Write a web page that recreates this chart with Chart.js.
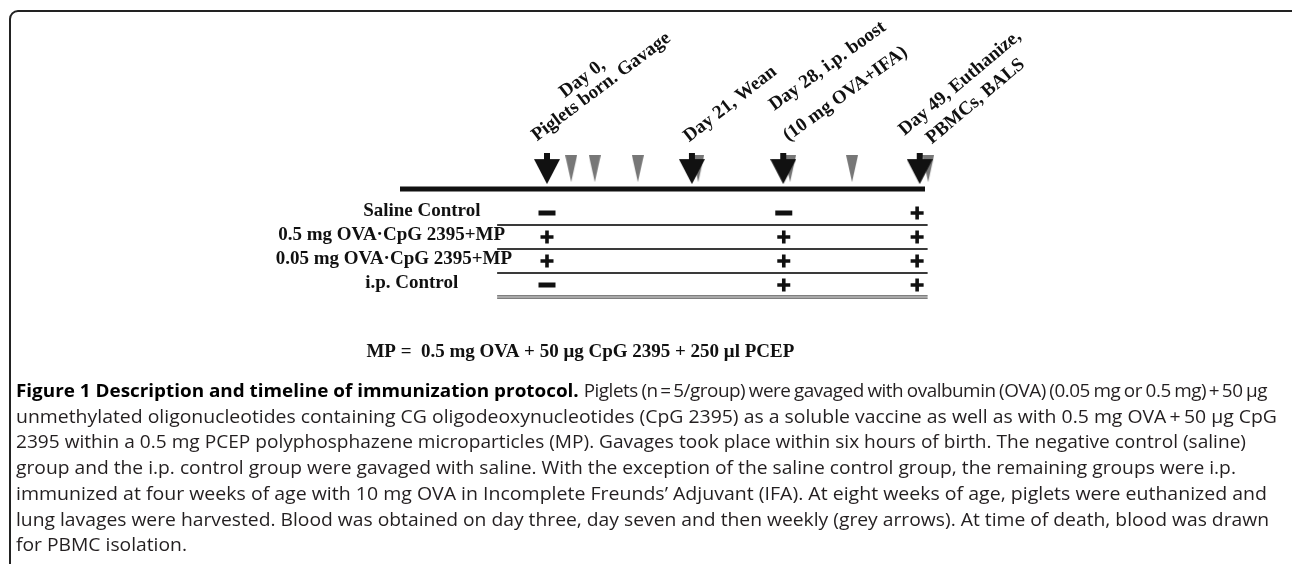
<!DOCTYPE html>
<html>
<head>
<meta charset="utf-8">
<title>Figure 1 - immunization timeline</title>
<script src="https://cdn.jsdelivr.net/npm/chart.js@4"></script>
<style>
  html, body { margin: 0; padding: 0; background: #fff; }
  body { width: 1292px; height: 564px; position: relative; overflow: hidden; }
  #frame { position: absolute; left: 9px; top: 10px; width: 1300px; height: 620px; border: 2px solid #222; border-radius: 9px; }
  #diagram { position: absolute; left: 0; top: 0; }
  #caption { position: absolute; left: 16px; top: 378px; font-family: 'Open Sans', sans-serif; font-size: 18px;
             line-height: 25.7px; color: #231f20; white-space: nowrap; }
  #caption div { width: max-content; transform-origin: 0 0; }
  #caption b { color: #000; }
  #caption .tight { letter-spacing: -0.45px; word-spacing: -0.8px; }
</style>
</head>
<body>
<div id="frame"></div>
<canvas id="diagram" width="1292" height="380"></canvas>
<div id="caption">
  <div><b>Figure 1 Description and timeline of immunization protocol.</b> <span class="tight">Piglets (n&thinsp;=&thinsp;5/group) were gavaged with ovalbumin (OVA) (0.05 mg or 0.5 mg)&thinsp;+&thinsp;50 µg</span></div>
  <div>unmethylated oligonucleotides containing CG oligodeoxynucleotides (CpG 2395) as a soluble vaccine as well as with 0.5 mg OVA&thinsp;+&thinsp;50 µg CpG</div>
  <div>2395 within a 0.5 mg PCEP polyphosphazene microparticles (MP). Gavages took place within six hours of birth. The negative control (saline)</div>
  <div>group and the i.p. control group were gavaged with saline. With the exception of the saline control group, the remaining groups were i.p.</div>
  <div>immunized at four weeks of age with 10 mg OVA in Incomplete Freunds’ Adjuvant (IFA). At eight weeks of age, piglets were euthanized and</div>
  <div>lung lavages were harvested. Blood was obtained on day three, day seven and then weekly (grey arrows). At time of death, blood was drawn</div>
  <div>for PBMC isolation.</div>
</div>
<script>
// Timeline is schematic: positions are given along the bar, 0 = left end, 100 = right end
const eventNames = ['Day 0', 'Day 21', 'Day 28', 'Day 49'];
const eventPos = [28.0, 55.6, 73.0, 99.0];
const eventLabels = [
  ['Day 0,', 'Piglets born. Gavage'],
  ['Day 21, Wean'],
  ['Day 28, i.p. boost', '(10 mg OVA+IFA)'],
  ['Day 49, Euthanize,', 'PBMCs, BALS'],
];
// blood sampling (grey arrows)
const bleedPos = [32.6, 37.1, 45.3, 56.8, 74.3, 86.1, 100.6];

const groups = ['Saline Control', '0.5 mg OVA·CpG 2395+MP', '0.05 mg OVA·CpG 2395+MP', 'i.p. Control'];
const treatCols = [28.0, 73.1, 98.5];   // Day 0, Day 28, Day 49
const treatments = [
  ['-', '-', '+'],
  ['+', '+', '+'],
  ['+', '+', '+'],
  ['-', '+', '+'],
];
const barStart = 0, barEnd = 100;
const tableStart = 18.5, tableEnd = 100.5;
const mpNote = 'MP =  0.5 mg OVA + 50 μg CpG 2395 + 250 μl PCEP';

const ARROW_Y = -0.85;
const FONT = 'bold 19px "Liberation Serif", "Times New Roman", serif';

function arrowImage(w, h, stem, color) {
  const c = document.createElement('canvas');
  c.width = w; c.height = h;
  const g = c.getContext('2d');
  g.fillStyle = color;
  if (stem) g.fillRect(w / 2 - 3, 0, 6, stem + 1);
  g.beginPath();
  g.moveTo(0, stem);
  g.lineTo(w, stem);
  g.lineTo(w / 2, h);
  g.closePath();
  g.fill();
  return c;
}
const blackArrow = arrowImage(26, 31, 6, '#111');
const greyArrow = arrowImage(12, 27, 0, '#777');

function hLine(x0, x1, y, color, width) {
  return {
    data: [{ x: x0, y }, { x: x1, y }],
    showLine: true, borderColor: color, borderWidth: width,
    pointRadius: 0, clip: false,
  };
}

const plusPts = [], minusPts = [];
treatments.forEach((row, i) => row.forEach((s, j) => {
  (s === '+' ? plusPts : minusPts).push({ x: treatCols[j], y: i + 1 });
}));

const separators = groups.map((g, i) => i < groups.length - 1
  ? [hLine(tableStart, tableEnd, i + 1.5, '#3a3a3a', 2)]
  : [hLine(tableStart, tableEnd, i + 1.45, '#555', 1.2), hLine(tableStart, tableEnd, i + 1.55, '#555', 1.2)]
).flat();

// group name placement, relative to where the table rules begin
const groupLayout = [
  { align: 'left', dx: -134 },
  { align: 'right', dx: 8 },
  { align: 'right', dx: 15 },
  { align: 'left', dx: -132 },
];
// slanted label placement: start of the bottom line relative to its arrow
const labelLayout = [
  { dx: -10, dy: 0, ang: -37, lh: 18, shift: -10 },
  { dx: -3, dy: 1, ang: -38, lh: 22, shift: 0 },
  { dx: 5, dy: 0, ang: -36, lh: 33, shift: 2 },
  { dx: 12, dy: 3, ang: -40, lh: 24, shift: 0 },
];

const textPlugin = {
  id: 'protocolText',
  afterDatasetsDraw(chart) {
    const { ctx, scales: { x, y } } = chart;
    ctx.save();
    ctx.fillStyle = '#111';
    ctx.font = FONT;

    // group names
    ctx.textBaseline = 'middle';
    const x0 = x.getPixelForValue(tableStart);
    groups.forEach((g, i) => {
      ctx.textAlign = groupLayout[i].align;
      ctx.fillText(g, x0 + groupLayout[i].dx, y.getPixelForValue(i + 1) - 2);
    });

    // event labels
    ctx.textAlign = 'left';
    ctx.textBaseline = 'alphabetic';
    eventLabels.forEach((lines, i) => {
      const L = labelLayout[i];
      const px = x.getPixelForValue(eventPos[i]) + L.dx;
      const py = y.getPixelForValue(ARROW_Y) - 27 + L.dy;
      const bottomW = ctx.measureText(lines[lines.length - 1]).width;
      ctx.save();
      ctx.translate(px, py);
      ctx.rotate(L.ang * Math.PI / 180);
      lines.forEach((t, j) => {
        const w = ctx.measureText(t).width;
        const up = lines.length - 1 - j;
        ctx.fillText(t, (bottomW - w) / 2 + (up ? L.shift : 0), -up * L.lh);
      });
      ctx.restore();
    });

    // microparticle footnote
    ctx.textAlign = 'left';
    ctx.textBaseline = 'middle';
    ctx.fillText(mpNote, x.getPixelForValue(-6.4), y.getPixelForValue(6.8));
    ctx.restore();
  }
};

new Chart(document.getElementById('diagram'), {
  type: 'scatter',
  data: {
    datasets: [
      { data: eventPos.map(p => ({ x: p, y: ARROW_Y })), pointStyle: blackArrow, clip: false },
      { data: bleedPos.map(p => ({ x: p, y: ARROW_Y })), pointStyle: greyArrow, clip: false },
      { data: plusPts, pointStyle: 'cross', pointRadius: 6.5, borderWidth: 3.6, borderColor: '#111', clip: false },
      { data: minusPts, pointStyle: 'line', pointRadius: 8.5, borderWidth: 5, borderColor: '#111', clip: false },
      hLine(barStart, barEnd, 0, '#111', 5),
      ...separators,
    ],
  },
  options: {
    responsive: false,
    animation: false,
    events: [],
    layout: { padding: { left: 400, right: 367, top: 165, bottom: 71 } },
    plugins: { legend: { display: false }, tooltip: { enabled: false } },
    scales: {
      x: { type: 'linear', min: barStart, max: barEnd, display: false },
      y: { type: 'linear', min: -1, max: 5, reverse: true, display: false },
    },
  },
  plugins: [textPlugin],
});

// squeeze each caption line so it ends where the printed one does
const lineEnds = [1267, 1277, 1246, 1236, 1267, 1269];
const capLines = [...document.getElementById('caption').children];
let lastK = 1;
capLines.forEach((d, i) => {
  const w = d.getBoundingClientRect().width;
  const k = i < lineEnds.length ? (lineEnds[i] - 16) / w : lastK;
  d.style.transform = 'scaleX(' + k.toFixed(4) + ')';
  lastK = k;
});
</script>
</body>
</html>
